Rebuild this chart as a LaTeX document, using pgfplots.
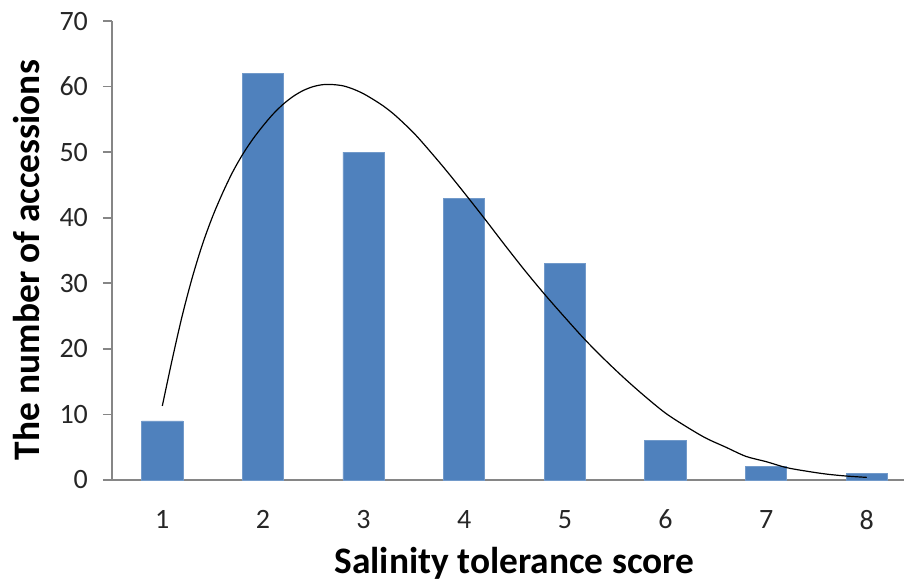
\documentclass[border=0pt]{standalone}
\usepackage{pgfplots}
\pgfplotsset{compat=1.18}
\usepackage{fontspec}
\setmainfont{Carlito}
\definecolor{barblue}{HTML}{4F81BD}
\definecolor{axgray}{HTML}{868686}
\begin{document}
\begin{tikzpicture}
\begin{axis}[
  scale only axis,
  width=396pt, height=229.5pt,
  xmin=0.5, xmax=8.37,
  ymin=0, ymax=70,
  axis x line=bottom, axis y line=left,
  axis line style={axgray, line width=0.8pt, -},
  xtick={1,2,3,4,5,6,7,8},
  ytick={0,10,...,70},
  x tick style={draw=none},
  y tick style={axgray, line width=0.8pt},
  tick align=outside,
  major tick length=4.5pt,
  /pgf/number format/assume math mode=true,
  ticklabel style={font=\fontsize{14}{16}\selectfont, text=black!85},
  xticklabel style={yshift=-7pt},
  yticklabel style={xshift=-4pt},
  xlabel={\textbf{Salinity tolerance score}},
  ylabel={\textbf{The number of accessions}},
  label style={font=\fontsize{18.7}{21}\selectfont},
  xlabel style={at={(axis description cs:0.508,-0.181)}, anchor=center},
  ylabel style={at={(axis description cs:-0.108,0.479)}, anchor=center, rotate=0},
  clip=false,
]
\addplot[ybar, bar width=0.41, fill=barblue, draw=barblue!80!white, line width=0.4pt]
  coordinates {(1,9) (2,62) (3,50) (4,43) (5,33) (6,6) (7,2) (8,1)};
\addplot[black, line width=0.6pt, smooth, tension=0.5, no marks] coordinates {
(1.0,11.3) (1.1,18.5) (1.2,25.2) (1.3,31.0) (1.4,36.0) (1.5,40.2) (1.6,43.8)
(1.7,47.0) (1.8,49.7) (1.9,52.0) (2.0,54.0) (2.1,55.8) (2.2,57.3) (2.3,58.5)
(2.4,59.4) (2.5,60.0) (2.6,60.3) (2.7,60.3) (2.8,60.1) (2.9,59.6) (3.0,58.9)
(3.1,58.0) (3.2,57.0) (3.3,55.8) (3.4,54.4) (3.5,52.9) (3.6,51.2) (3.8,47.6)
(4.0,43.8) (4.2,39.9) (4.4,35.9) (4.6,32.0) (4.8,28.3) (5.0,24.8) (5.2,21.4)
(5.4,18.3) (5.6,15.4) (5.8,12.7) (6.0,10.2) (6.2,8.2) (6.4,6.4) (6.6,5.0)
(6.8,3.6) (7.0,2.8) (7.2,1.9) (7.4,1.35) (7.6,0.9) (7.8,0.6) (8.0,0.4)};
\end{axis}
\pgfresetboundingbox
\path (current axis.south west) ++(-56pt,-52.5pt) rectangle ++(452pt,292.5pt);
\end{tikzpicture}
\end{document}
